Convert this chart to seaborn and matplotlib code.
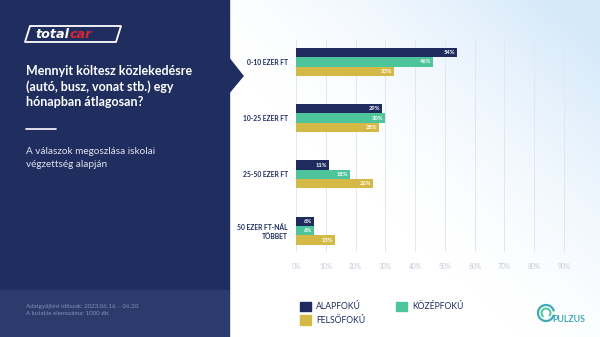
import numpy as np
import pandas as pd
import matplotlib
matplotlib.use("Agg")
import matplotlib.pyplot as plt
import matplotlib.patches as mpatches
from matplotlib.patches import Polygon, Arc
import seaborn as sns

categories = ["0-10 EZER FT", "10-25 EZER FT", "25-50 EZER FT", "50 EZER FT-NÁL\nTÖBBET"]
groups = ["ALAPFOKÚ", "KÖZÉPFOKÚ", "FELSŐFOKÚ"]
alapfoku = [54, 29, 11, 6]
kozepfoku = [46, 30, 18, 6]
felsofoku = [33, 28, 26, 13]
xticks = [0, 10, 20, 30, 40, 50, 60, 70, 80, 90]
xtick_labels = [f"{t}%" for t in xticks]

title = "Mennyit költesz közlekedésre\n(autó, busz, vonat stb.) egy\nhónapban átlagosan?"
subtitle = "A válaszok megoszlása iskolai\nvégzettség alapján"
footer = "Adatgyűjtési időszak: 2023.06.16. - 06.20.\nA kutatás elemszáma: 1000 db."

NAVY = "#1f2b5e"
TEAL = "#4ec49b"
GOLD = "#d5b947"
PANEL = "#1f2d5f"
PANEL2 = "#2c3b6c"

df = pd.DataFrame({
    "cat": categories * 3,
    "grp": [groups[0]] * 4 + [groups[1]] * 4 + [groups[2]] * 4,
    "val": alapfoku + kozepfoku + felsofoku,
})

sns.set_theme(style="white")
plt.rcParams["font.family"] = ["Lato", "DejaVu Sans"]

W, H = 600, 337
fig = plt.figure(figsize=(6, 3.37), dpi=100)

# background gradient
bg = fig.add_axes([0, 0, 1, 1], zorder=-10)
bg.set_axis_off()
xx = np.linspace(0, 1, 300)
yy = np.linspace(0, 1, 170)
X, Y = np.meshgrid(xx, yy)
g = np.clip((X - 0.6) * 1.5 + (Y - 0.45) * 0.9, 0, 1) ** 1.6
c0 = np.array([1.0, 1.0, 1.0])
c1 = np.array([0.83, 0.91, 0.98])
img = c0[None, None, :] * (1 - g[..., None]) + c1[None, None, :] * g[..., None]
bg.imshow(img, extent=[0, 1, 0, 1], origin="lower", aspect="auto")
bg.set_xlim(0, 1)
bg.set_ylim(0, 1)

def fx(px):
    return px / W

def fy(py):
    return 1 - py / H

# left panel
bg.add_patch(mpatches.Rectangle((0, fy(290)), fx(229), 1 - fy(290), color=PANEL, zorder=1))
bg.add_patch(mpatches.Rectangle((0, 0), fx(229), fy(290), color=PANEL2, zorder=1))
bg.add_patch(Polygon([(fx(228), fy(57)), (fx(243), fy(76)), (fx(228), fy(94))], closed=True,
                     color=PANEL, zorder=1))

# logo
logo = Polygon([(fx(30), fy(26)), (fx(121), fy(26)), (fx(116), fy(42)), (fx(25), fy(42))],
               closed=True, fill=False, edgecolor="white", lw=1.3, joinstyle="round", zorder=2)
bg.add_patch(logo)
t1 = bg.text(fx(35), fy(34.5), "total", color="white", fontsize=9.2, fontweight="bold",
             fontstyle="italic", va="center", ha="left", zorder=3, family=["DejaVu Sans"])
fig.canvas.draw()
bb = t1.get_window_extent()
bg.text(bb.x1 / W + 0.001, fy(34.5), "car", color="#d8262f", fontsize=9.2, fontweight="bold",
        fontstyle="italic", va="center", ha="left", zorder=3, family=["DejaVu Sans"])

fig.text(fx(26), fy(65), title, color="white", fontsize=9.0, fontweight="bold",
         va="top", ha="left", linespacing=1.3)
fig.add_artist(plt.Line2D([fx(26), fx(56)], [fy(129), fy(129)], color="white", lw=1.2))
fig.text(fx(26), fy(147), subtitle, color="#dfe3ee", fontsize=7.2, va="top", ha="left",
         linespacing=1.5)
fig.text(fx(26), fy(304), footer, color="#8690b8", fontsize=4.4, va="top", ha="left",
         linespacing=1.6)

# main chart
ax = fig.add_axes([fx(296), fy(252), fx(274), fy(40) - fy(252)])
ax.patch.set_alpha(0)
sns.barplot(data=df, y="cat", x="val", hue="grp", hue_order=groups, order=categories,
            palette=[NAVY, TEAL, GOLD], orient="h", width=0.5, ax=ax, legend=False,
            edgecolor="none", linewidth=0, saturation=1)
ax.set_xlim(0, 92)
ax.set_ylim(3.38, -0.39)
ax.set_xticks(xticks)
ax.set_xticklabels(xtick_labels, color="#c3c9d8", fontsize=4.8)
ax.tick_params(axis="x", length=0, pad=8)
ax.tick_params(axis="y", length=0, pad=6)
ax.set_yticks(range(len(categories)))
ax.set_yticklabels(categories, color=NAVY, fontsize=4.9, fontweight="bold",
                   ha="right", linespacing=1.3)
ax.grid(axis="x", color="#e2e7ef", lw=0.7)
ax.set_axisbelow(True)
for s in ax.spines.values():
    s.set_visible(False)
ax.set_xlabel("")
ax.set_ylabel("")

for cont in ax.containers:
    for bar in cont:
        w = bar.get_width()
        ax.text(w - 0.6, bar.get_y() + bar.get_height() / 2, f"{int(round(w))}%",
                color="white", fontsize=4.2, fontweight="bold", ha="right", va="center")

# legend
handles = [mpatches.Patch(color=NAVY, label=groups[0]),
           mpatches.Patch(color=GOLD, label=groups[2]),
           mpatches.Patch(color=TEAL, label=groups[1])]
leg = fig.legend(handles=handles, ncol=2, loc="upper left",
                 bbox_to_anchor=(fx(292), fy(294)), frameon=False,
                 fontsize=6.2, handlelength=1.3, handleheight=1.3,
                 columnspacing=3.6, labelspacing=0.45, handletextpad=0.6)
for t in leg.get_texts():
    t.set_color(NAVY)

# PULZUS logo
bg.add_patch(Arc((fx(546), fy(313)), fx(16), 16 / H, theta1=20, theta2=340,
                 color="#3fa9b5", lw=1.6, zorder=3))
bg.add_patch(Arc((fx(546), fy(313)), fx(9), 9 / H, theta1=-60, theta2=250,
                 color="#4ec49b", lw=1.4, zorder=3))
bg.text(fx(552), fy(320), "PULZUS", color="#3fa9b5", fontsize=6.3, fontweight="bold",
        ha="left", va="center", zorder=3)

fig.savefig("out.png", dpi=100)
